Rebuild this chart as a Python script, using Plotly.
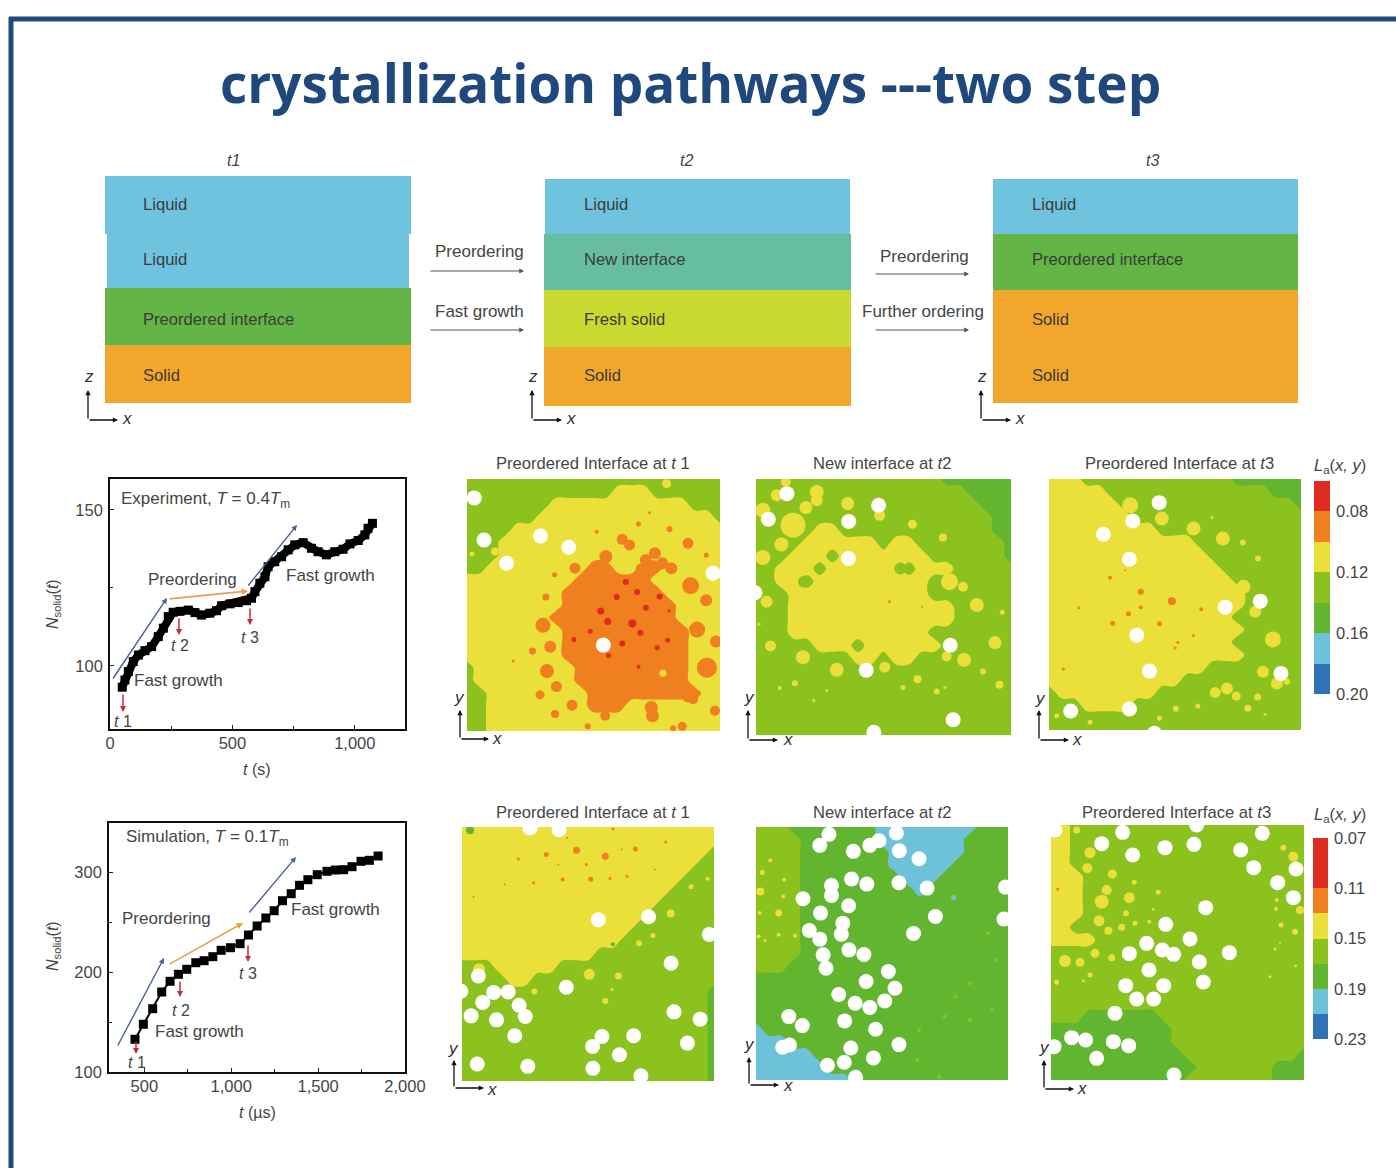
import re
import numpy as np
import plotly.graph_objects as go

W, H = 1396, 1168
TEXT = "#454545"
FONT = "Liberation Sans"

# ---------- growth curves ----------
EXP_T = [50,61,75,95,116,143,170,197,218,238,258,286,320,347,374,408,435,456,490,524,558,578,592,612,633,646,673,701,728,755,789,823,850,884,918,952,980,1014,1041,1054,1072]
EXP_N = [93.2,95.5,98.2,101.4,103.5,104.9,106.2,109.4,112.1,115.8,117.2,117.5,117.9,117.1,116.3,116.9,117.7,119.3,119.9,120.3,120.9,121.7,123.8,126.5,128.6,131.8,133.4,135,137.2,138.8,139.5,137.7,136.6,135.6,136.6,137.4,139.1,140.2,142,144.1,145.7]
SIM_T = [446,494,548,600,648,696,744,796,844,894,942,996,1051,1099,1149,1199,1247,1295,1345,1393,1441,1495,1551,1599,1647,1695,1747,1795,1845]
SIM_N = [132.7,147.7,163.3,180,190.7,197.7,202.7,209.3,211.3,215.3,221.7,224.3,228.3,237,246,254,261.3,271.3,278.3,286.7,292.3,297.3,300.7,302,302.3,305.3,310.7,311.7,316]

# ---------- layer diagrams (top to bottom) ----------
LAYER_NAMES = [["Liquid","Liquid","Preordered interface","Solid"],
               ["Liquid","New interface","Fresh solid","Solid"],
               ["Liquid","Preordered interface","Solid","Solid"]]
LAYER_COLORS = [["#6fc3de","#6fc3de","#63b546","#f2a62c"],
                ["#6fc3de","#66bda0","#c9d930","#f2a62c"],
                ["#6fc3de","#63b546","#f2a62c","#f2a62c"]]
LAYER_THICK = [[58,54,57,58],[55,56,57,59],[55,56,57,56]]
LAYER_WIDTH = [[1,0.99,1,1],[0.993,1,1,1],[0.997,1,1,1]]

# ---------- colour scales ----------
TOP_EDGES = [0.06,0.08,0.10,0.12,0.14,0.16,0.18,0.20]
BOT_EDGES = [0.07,0.11,0.13,0.15,0.17,0.19,0.21,0.23]
BAND_COLORS = ["#df2a1f","#ef7f1f","#ebdf3a","#8cc21e","#62b52e","#6dc2da","#2f72b8"]
TOP_TICKS = [0.08,0.12,0.16,0.20]
BOT_TICKS = [0.07,0.11,0.15,0.19,0.23]
TOP_CODES = dict(o=0.09,y=0.11,n=0.13,g=0.15,b=0.17)
BOT_CODES = dict(o=0.12,y=0.14,n=0.16,g=0.18,b=0.20)

# ---------- map regions: run-length rows, 21 samples across ----------
T1_GRID = ["21n","12n3y6n","7n11y3n","6n14y1n","4n17y","3n18y","3n18y","2n8y2o2y2o5y","9y6o6y","8y8o5y","8y9o4y",
           "7y10o4y","8y10o3y","8y10o3y","8y10o3y","1n8y9o3y","1n8y9o3y","2n8y9o2y","2n8y3o8y","2n19y","2n19y"]
T2_GRID = ["15n6g","17n4g","18n3g","19n2g","5n2y12n2g","4n6y1n2y7n1g","3n3y1n7y6n1g","2n3y1n6y1n3y5n","2n2y1n9y7n","3n11y7n","3n13y5n",
           "3n13y5n","3n11y7n","5n3y1n6y6n","8n2y1n2y8n","21n","21n","21n","21n","21n","21n"]
T3_GRID = ["3y12n6g","5y13n3g","6y14n1g","7y14n","9y12n","12y9n","13y8n","14y7n","15y6n","16y5n","16y5n",
           "15y6n","16y5n","15y6n","16y5n","13y8n","11y10n","1n8y12n","3n4y14n","21n","21n"]
B1_GRID = ["21y","21y","20y1n","19y2n","18y3n","17y4n","16y5n","15y6n","14y7n","13y8n","11y10n",
           "3n5y13n","4n2y15n","20n1g","20n1g","20n1g","20n1g","20n1g","20n1g","20n1g","20n1g"]
B2_GRID = ["3n7g8b3g","4n6g7b4g","4n7g6b4g","4n7g5b5g","4n8g3b6g","4n9g1b7g","4n17g","4n17g","4n17g","4n17g","4n17g",
           "3n18g","21g","21g","21g","21g","1b20g","3b18g","5b16g","6b15g","8b13g"]
B3_GRID = ["2y19n","2y19n","2y19n","2y19n","3y18n","3y18n","3y18n","3y18n","2y19n","4y17n","21n",
           "21n","21n","21n","21n","3n6g12n","10g11n","10g11n","11g9n1g","12g6n3g","11g7n3g"]

# ---------- map blobs: (x, y, diameter) ----------
T1_ORANGE = [(475,268,11),(495,285,11),(656,280,11),(605,237,6),(520,222,5),(405,245,4),(345,355,11),(289,375,5),(265,442,7),(257,527,15),(277,592,12),(228,605,7),(268,665,14),(294,712,11),(249,737,9),(337,768,11),(290,795,8),(428,800,10),(555,775,13),(558,800,13),(380,832,6),(640,832,9),(615,838,6),(730,785,10),(733,576,12),(708,655,20),(681,540,16),(706,452,12),(663,408,17),(585,340,12),(610,355,12),(565,310,12),(540,330,12),(525,355,9),(430,320,13),(655,745,10),(670,750,10),(706,315,5),(550,188,3),(175,635,3)]
T1_RED = [(485,397,6),(460,442,6),(516,427,6),(578,440,6),(540,474,6),(416,484,7),(435,516,7),(503,522,8),(525,550,6),(387,545,5),(342,570,5),(475,582,6),(600,572,5),(571,595,5),(520,652,4),(437,618,5),(604,483,3)]
T1_YELLOW = [(587,672,7),(597,100,9),(125,305,8),(62,312,5)]
T1_WHITE = [(68,143),(95,270),(157,340),(250,258),(328,292),(725,370),(423,587)]

T2_ORANGE = [(1210,455,3),(1300,470,2)]
T2_YELLOW = [(1010,125,14),(1010,150,12),(980,172,13),(900,135,12),(925,95,10),(862,180,15),(1095,160,13),(1183,195,11),(1273,222,9),(1357,262,8),(913,283,14),(862,322,15),(945,225,25),(872,455,12),(1375,395,17),(1412,410,10),(1450,465,14),(1520,487,5),(1500,578,13),(1415,630,14),(1367,620,10),(1467,665,6),(1512,705,8),(1340,725,6),(1362,713,3),(1287,688,8),(1247,713,5),(1197,652,11),(1065,660,14),(972,622,14),(883,588,11),(950,700,6),(908,715,4),(1037,722,3),(1002,752,3),(852,522,3)]
T2_LGREEN = [(1240,355,12),(975,395,12)]
T2_WHITE = [(928,130),(877,207),(1180,165),(1098,214),(1097,325),(840,428),(1377,586),(1146,661),(1385,810),(1167,848)]

T3_ORANGE = [(240,383,4),(332,425,6),(332,471,4),(295,491,5),(248,519,5),(388,521,5),(425,453,8),(513,477,4),(490,556,3),(443,577,3),(435,594,3),(100,657,3),(285,360,2),(147,473,3)]
T3_YELLOW = [(300,165,16),(395,205,14),(490,235,14),(578,265,14),(638,277,6),(683,325,6),(545,202,3),(640,410,14),(675,485,12),(728,568,16),(698,665,12),(740,700,12),(770,695,6),(555,727,11),(590,715,12),(618,738,9),(682,741,7),(653,775,7),(503,768,5),(437,776,6),(388,805,5),(180,817,5),(80,797,5),(704,793,3)]
T3_WHITE = [(387,157),(308,212),(220,252),(298,327),(585,471),(690,453),(320,555),(358,663),(752,670),(122,783),(298,777),(373,850)]

B1_ORANGE = [(265,165,5),(348,152,7),(427,170,7),(510,148,5),(188,178,3),(375,195,3),(298,195,2),(310,240,4),(387,239,5),(440,237,3),(487,230,3),(230,250,3),(150,255,2),(65,292,2),(593,127,3),(563,210,2),(448,87,3),(322,115,2),(472,150,2)]
B1_YELLOW = [(383,525,11),(463,530,7),(232,577,6),(427,605,6),(445,570,3),(520,432,6),(558,408,5),(607,342,8),(663,262,5),(708,238,4),(80,510,12)]
B1_GREEN = [(55,92,8),(448,435,4)]
B1_WHITE = [(220,85),(300,90),(408,361),(546,352),(713,405),(78,530),(608,492),(320,564),(30,576),(120,580),(160,578),(90,610),(190,618),(207,652),(58,650),(128,662),(178,710),(616,638),(688,660),(418,712),(392,742),(505,710),(653,732),(466,767),(75,795),(214,802),(393,808),(525,830)]

B2_YELLOW = [(855,275,8),(860,218,5),(882,182,4),(920,240,4),(905,340,7),(918,290,4),(853,340,4),(850,410,4),(905,405,4),(950,408,4),(868,422,3)]
B2_LGREEN = [(1480,400,4),(1290,690,4),(1360,650,4),(1430,660,4),(1390,590,4),(1430,550,4),(1500,480,4),(1490,630,4),(1285,780,4),(1345,830,4)]
B2_BLUE = [(1385,293,5)]
B2_WHITE = [(1043,104),(1018,137),(1110,155),(1155,137),(1180,123),(1228,100),(1236,153),(1290,177),(1105,238),(1147,253),(1235,249),(1312,265),(1050,257),(1050,287),(972,297),(1097,318),(1020,340),(1335,350),(1081,370),(1077,403),(989,392),(1018,418),(1275,401),(1098,450),(1139,464),(1027,465),(1035,505),(1206,515),(1145,545),(1224,565),(1070,584),(1115,610),(1155,623),(1196,603),(933,650),(970,677),(1086,663),(1171,688),(916,742),(935,735),(1103,744),(1235,734),(1085,787),(1039,796),(1165,774),(1116,832),(1527,262),(1523,358)]

B3_ORANGE = [(83,267,3)]
B3_YELLOW = [(180,158,11),(103,90,8),(140,90,7),(247,222,9),(230,270,10),(215,305,14),(298,293,11),(207,362,11),(288,340,6),(235,392,8),(275,382,7),(172,205,10),(105,483,12),(150,487,9),(195,460,9),(245,473,7),(165,425,10),(180,525,5),(160,542,3),(80,547,5),(313,247,5),(385,277,5),(315,370,5),(358,365,4),(370,328,3),(795,395,6),(753,375,5),(740,300,4),(738,327,4),(760,143,6),(790,170,10),(810,330,8),(797,497,3),(720,530,3),(750,430,2),(735,447,3)]
B3_WHITE = [(278,97),(215,131),(308,165),(405,143),(492,133),(632,150),(697,100),(671,203),(743,248),(798,207),(790,293),(527,323),(407,373),(480,417),(350,430),(397,450),(431,463),(298,461),(598,458),(508,486),(357,510),(520,546),(287,557),(401,557),(320,597),(371,597),(255,640),(125,713),(167,720),(72,740),(250,725),(296,737),(200,775),(432,825),(500,75),(75,90)]

fig = go.Figure()
layout = dict(width=W, height=H, margin=dict(l=0, r=0, t=0, b=0, pad=0, autoexpand=False), paper_bgcolor="white", plot_bgcolor="white",
              showlegend=False, barmode="stack", autosize=False, font=dict(family=FONT, color=TEXT))
annos, shapes = [], []
n_axes = [0]


def new_axes(px0, py0, px1, py1, xopts, yopts):
    n_axes[0] += 1
    i = n_axes[0]
    s = "" if i == 1 else str(i)
    base = dict(showgrid=False, zeroline=False, showticklabels=False, ticks="", showline=False, fixedrange=True)
    layout["xaxis" + s] = {**base, "domain": [px0 / W, px1 / W], "anchor": "y" + s, **xopts}
    layout["yaxis" + s] = {**base, "domain": [1 - py1 / H, 1 - py0 / H], "anchor": "x" + s, **yopts}
    return "x" + s, "y" + s


def note(px, py, text, size=17, color=TEXT, anchor="center", angle=0, weight=None, family=FONT):
    annos.append(dict(x=px / W, y=1 - py / H, xref="paper", yref="paper", text=text, showarrow=False, xanchor=anchor,
                      yanchor="middle", textangle=angle, font=dict(size=size, color=color, family=family, weight=weight)))


def arrow(x0, y0, x1, y1, color="#555555", width=1.2, size=0.8):
    annos.append(dict(x=x1 / W, y=1 - y1 / H, xref="paper", yref="paper", ax=x0 - x1, ay=y0 - y1, axref="pixel", ayref="pixel",
                      text="", showarrow=True, arrowhead=2, arrowsize=size, arrowwidth=width, arrowcolor=color, standoff=0))


def corner(ox, oy, up, right, vx, vy, hx, hy, vlabel, hlabel="x"):
    arrow(ox, oy, ox, up, "#111111", 1.3, 0.8)
    arrow(ox, oy, right, oy, "#111111", 1.3, 0.8)
    note(vx, vy, f"<i>{vlabel}</i>", 17, "#333333")
    note(hx, hy, f"<i>{hlabel}</i>", 17, "#333333")


def stepped_scale(edges):
    lo, hi = edges[0], edges[-1]
    out = []
    for k, c in enumerate(BAND_COLORS):
        out.append([(edges[k] - lo) / (hi - lo), c])
        out.append([(edges[k + 1] - lo) / (hi - lo), c])
    return out


def contour_scale():
    # contour fills sample the scale once per band; eight bands with the last colour repeated above the top level
    cols = BAND_COLORS + [BAND_COLORS[-1]]
    return [[k / (len(cols) - 1), c] for k, c in enumerate(cols)]


def expand(rows, codes):
    out = []
    for r in rows:
        vals = []
        for count, c in re.findall(r"(\d+)([a-z])", r):
            vals += [codes[c]] * int(count)
        assert len(vals) == 21, r
        out.append(vals)
    return out


def dots(xa, ya, items, color, default=15):
    xs = [p[0] for p in items]
    ys = [p[1] for p in items]
    ds = [p[2] if len(p) > 2 else default for p in items]
    fig.add_trace(go.Scatter(x=xs, y=ys, mode="markers", xaxis=xa, yaxis=ya, hoverinfo="skip",
                             marker=dict(color=color, size=ds, opacity=1, line=dict(width=0))))


def map_panel(box, rng, grid, codes, start, end, blobs, white):
    px0, py0, px1, py1 = box
    x0, y0, x1, y1 = rng
    xa, ya = new_axes(px0, py0, px1, py1, dict(range=[x0, x1]), dict(range=[y1, y0]))
    fig.add_trace(go.Contour(x=np.linspace(x0, x1, 21), y=np.linspace(y0, y1, 21), z=expand(grid, codes), xaxis=xa, yaxis=ya,
                             colorscale=contour_scale(), showscale=False, hoverinfo="skip",
                             autocontour=False, contours=dict(start=start, end=end, size=0.02, coloring="fill", showlines=False),
                             line=dict(width=0)))
    for items, color in blobs:
        dots(xa, ya, items, color)
    dots(xa, ya, white, "white")


def color_bar(box, edges, ticks):
    px0, py0, px1, py1 = box
    xa, ya = new_axes(px0, py0, px1, py1, dict(range=[0, 1]),
                      dict(range=[edges[-1], edges[0]], side="right", showticklabels=True, tickvals=ticks,
                           ticktext=[f"{t:.2f}" for t in ticks], tickfont=dict(size=16.5, color=TEXT), ticklen=0, ticklabelstandoff=5))
    mids = [[(edges[k] + edges[k + 1]) / 2] for k in range(len(edges) - 1)]
    fig.add_trace(go.Heatmap(x=[0, 1], y=edges, z=mids, xaxis=xa, yaxis=ya, colorscale=stepped_scale(edges),
                             zmin=edges[0], zmax=edges[-1], showscale=False, hoverinfo="skip"))


def line_chart(box, xr, yr, xticks, xlabels, xminor, yticks, ylabels, yminor, t, n, lw, ms):
    axis_common = dict(showline=True, mirror=True, linecolor="#111111", linewidth=1.6, ticks="inside", ticklen=4, tickcolor="#222222",
                       tickwidth=1, showticklabels=True, tickfont=dict(size=16.5, color=TEXT))
    minor = dict(ticks="inside", ticklen=3, tickcolor="#222222", tickwidth=1, showgrid=False)
    xa, ya = new_axes(*box, dict(axis_common, range=xr, tickvals=xticks, ticktext=xlabels, ticklabelstandoff=-2, minor=dict(minor, tickvals=xminor)),
                      dict(axis_common, range=yr, tickvals=yticks, ticktext=ylabels, ticklabelstandoff=2, minor=dict(minor, tickvals=yminor)))
    fig.add_trace(go.Scatter(x=t, y=n, mode="lines+markers", xaxis=xa, yaxis=ya, hoverinfo="skip",
                             line=dict(color="black", width=lw), marker=dict(symbol="square", color="black", size=ms, line=dict(width=0))))


# frame & title
shapes.append(dict(type="line", xref="paper", yref="paper", x0=9 / W, x1=1, y0=1 - 19 / H, y1=1 - 19 / H, line=dict(color="#1f497d", width=5)))
shapes.append(dict(type="line", xref="paper", yref="paper", x0=11 / W, x1=11 / W, y0=1 - 17 / H, y1=0, line=dict(color="#1f497d", width=5)))
note(690, 82, "crystallization pathways ---two step", 53, "#1f497d", weight="bold", family="Open Sans")

# layer diagrams
for k, (box, lab_x, t_x, t_lab) in enumerate(zip([(105, 176, 411, 403), (544, 179, 851, 406), (993, 179, 1298, 403)],
                                                 [141, 582, 1030], [233, 686, 1152], ["t1", "t2", "t3"])):
    total = sum(LAYER_THICK[k])
    xa, ya = new_axes(*box, dict(range=[0, 1]), dict(range=[0, total]))
    for name, col, th, wd in list(zip(LAYER_NAMES[k], LAYER_COLORS[k], LAYER_THICK[k], LAYER_WIDTH[k]))[::-1]:
        fig.add_trace(go.Bar(x=[0.5], y=[th], width=[wd], xaxis=xa, yaxis=ya, marker=dict(color=col, line=dict(width=0)), hoverinfo="skip"))
    for name, py in zip(LAYER_NAMES[k], [204, 259, 319, 376]):
        note(lab_x, py, name, 16.6, "#3b3b3b", "left")
    note(t_x, 161, f"<i>{t_lab}</i>", 16)

for lab, px, py in [("Preordering", 480, 252), ("Fast growth", 480, 311), ("Preordering", 925, 256), ("Further ordering", 923, 311)]:
    note(px, py, lab, 17)
arrow(429, 271, 524, 271)
arrow(429, 330, 524, 330)
arrow(874, 274, 969, 274)
arrow(874, 330, 969, 330)
for ox in (88, 532, 981):
    corner(ox, 420, 390, ox + 30, ox + 1, 377, ox + 39, 418, "z")

# growth charts
line_chart((110, 479, 405, 729), [0, 1205], [79.8, 159.9], [0, 500, 1000], ["0", "500", "1,000"], [250, 750],
           [100, 150], ["100", "150"], [125], EXP_T, EXP_N, 8, 9)
line_chart((109, 823, 405, 1072), [296.5, 2000], [100, 349], [500, 1000, 1500, 2000], ["500", "1,000", "1,500", "2,000"], [750, 1250, 1750],
           [100, 200, 300], ["100", "200", "300"], [150, 250], SIM_T, SIM_N, 2, 9)

BLUE_A, ORANGE_A, RED_A = "#47609e", "#ef9a55", "#cc2a3c"
arrow(112, 680, 167, 598, BLUE_A, 1.4)
arrow(168, 599, 248, 591, ORANGE_A, 1.6)
arrow(247, 587, 297, 525, BLUE_A, 1.4)
for x, y0, y1 in [(123, 693, 712), (179, 617, 635), (250, 607, 625)]:
    arrow(x, y0, x, y1, RED_A, 1.5)
arrow(117, 1047, 164, 958, BLUE_A, 1.4)
arrow(168, 965, 243, 923, "#e8a24a", 1.6)
arrow(248, 914, 296, 857, BLUE_A, 1.4)
for x, y0, y1 in [(136, 1040, 1054), (180, 980, 997), (248, 944, 962)]:
    arrow(x, y0, x, y1, RED_A, 1.5)

note(119, 500, "Experiment, <i>T</i> = 0.4<i>T</i><sub>m</sub>", 17, anchor="left")
note(178, 680, "Fast growth", 17)
note(192, 579, "Preordering", 17)
note(330, 575, "Fast growth", 17)
note(123, 721, "<i>t</i> 1", 16)
note(180, 645, "<i>t</i> 2", 16)
note(250, 637, "<i>t</i> 3", 16)
note(257, 769, "<i>t</i> (s)", 16)
note(53, 604, "<i>N</i><sub>solid</sub>(<i>t</i>)", 16, angle=-90)

note(124, 838, "Simulation, <i>T</i> = 0.1<i>T</i><sub>m</sub>", 17, anchor="left")
note(166, 918, "Preordering", 17)
note(335, 910, "Fast growth", 17)
note(199, 1031, "Fast growth", 17)
note(137, 1062, "<i>t</i> 1", 16)
note(181, 1010, "<i>t</i> 2", 16)
note(248, 973, "<i>t</i> 3", 16)
note(257, 1112, "<i>t</i> (µs)", 16)
note(53, 946, "<i>N</i><sub>solid</sub>(<i>t</i>)", 16, angle=-90)

# maps
OR, RD, YE, LG, DG, LB = BAND_COLORS[1], BAND_COLORS[0], BAND_COLORS[2], BAND_COLORS[3], BAND_COLORS[4], BAND_COLORS[5]
map_panel((467, 479, 720, 731), (48, 86, 744, 846), T1_GRID, TOP_CODES, 0.08, 0.20, [(T1_ORANGE, OR), (T1_RED, RD), (T1_YELLOW, YE)], T1_WHITE)
map_panel((756, 479, 1011, 735), (843, 86, 1544, 856), T2_GRID, TOP_CODES, 0.08, 0.20, [(T2_YELLOW, YE), (T2_LGREEN, LG), (T2_ORANGE, OR)], T2_WHITE)
map_panel((1049, 479, 1301, 730), (57, 86, 812, 840), T3_GRID, TOP_CODES, 0.08, 0.20, [(T3_YELLOW, YE), (T3_ORANGE, OR)], T3_WHITE)
map_panel((462, 827, 714, 1081), (33, 82, 726, 846), B1_GRID, BOT_CODES, 0.11, 0.23, [(B1_ORANGE, OR), (B1_YELLOW, YE), (B1_GREEN, DG)], B1_WHITE)
map_panel((756, 827, 1008, 1080), (843, 82, 1534, 840), B2_GRID, BOT_CODES, 0.11, 0.23, [(B2_YELLOW, YE), (B2_LGREEN, LG), (B2_BLUE, LB)], B2_WHITE)
map_panel((1051, 825, 1304, 1080), (63, 75, 822, 840), B3_GRID, BOT_CODES, 0.11, 0.23, [(B3_YELLOW, YE), (B3_ORANGE, OR)], B3_WHITE)

color_bar((1314, 481, 1330, 694), TOP_EDGES, TOP_TICKS)
color_bar((1313, 838, 1328, 1039), BOT_EDGES, BOT_TICKS)

for lab, x, y in [("Preordered Interface at <i>t</i> 1", 593, 463), ("New interface at <i>t</i>2", 882, 463), ("Preordered Interface at <i>t</i>3", 1179, 463),
                  ("Preordered Interface at <i>t</i> 1", 593, 812), ("New interface at <i>t</i>2", 882, 812), ("Preordered Interface at <i>t</i>3", 1176, 812)]:
    note(x, y, lab, 16.6)
note(1340, 466, "<i>L</i><sub>a</sub>(<i>x, y</i>)", 16.5)
note(1340, 815, "<i>L</i><sub>a</sub>(<i>x, y</i>)", 16.5)

corner(460, 739, 710, 489, 459, 697, 497, 738, "y")
corner(748, 740, 710, 778, 749, 697, 788, 739, "y")
corner(1039, 740, 710, 1069, 1040, 698, 1077, 739, "y")
corner(454, 1088, 1060, 484, 453, 1048, 492, 1089, "y")
corner(749, 1085, 1057, 779, 749, 1044, 788, 1085, "y")
corner(1044, 1089, 1060, 1074, 1044, 1047, 1082, 1088, "y")

layout["annotations"] = annos
layout["shapes"] = shapes
fig.update_layout(**layout)
fig.write_html("out.html", config={"displayModeBar": False},
               post_script="document.body.style.margin='0';document.body.style.overflow='hidden';")
